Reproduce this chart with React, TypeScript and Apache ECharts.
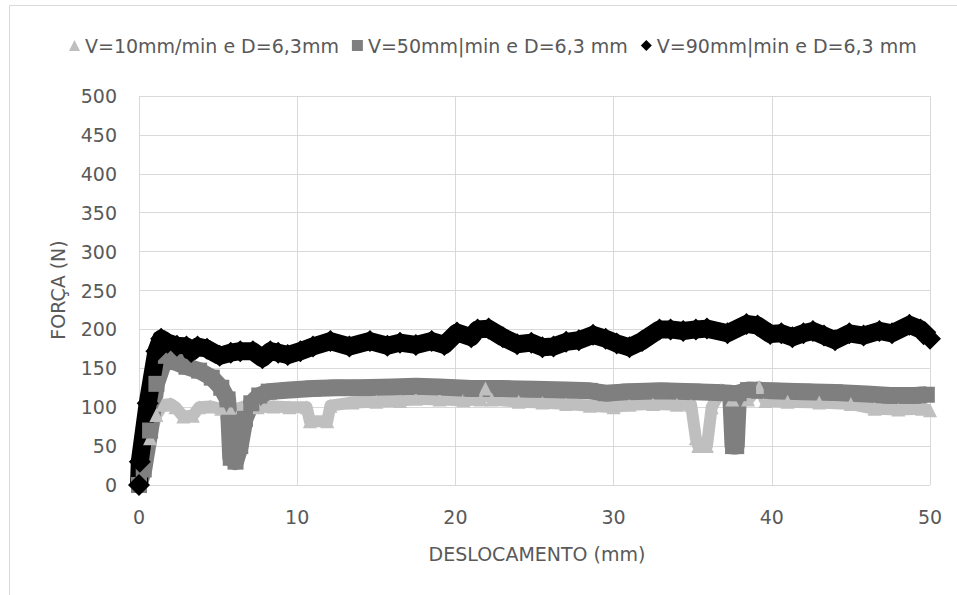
import React, { useEffect, useRef } from "react";
import * as echarts from "echarts";

const seriesNames = ["V=10mm/min e D=6,3mm", "V=50mm|min e D=6,3 mm", "V=90mm|min e D=6,3 mm"];
const xAxisTitle = "DESLOCAMENTO (mm)";
const yAxisTitle = "FORÇA (N)";

// V=10 (light grey, triangles)
const lightX = [0, 0.3, 0.7, 1.1, 1.5, 2.0, 2.3, 2.8, 3.4, 3.8, 4.5, 5.2, 5.8, 6.5, 7.5, 8.5, 9.5, 10.6, 10.8, 11.9, 12.1, 13.5, 15, 16.5, 17.5, 19, 20.5, 21.6, 21.9, 22.3, 24, 25.5, 27, 28.5, 30, 31, 32.5, 34, 34.9, 35.2, 35.35, 35.9, 36.2, 36.8, 37.5, 38.5, 39.2, 39.6, 41, 43, 45, 46.5, 48, 49.5, 50];
const lightY = [0, 25, 60, 90, 103, 104, 100, 88, 89, 100, 101, 98, 95, 100, 100, 101, 100, 100, 82, 82, 102, 106, 107, 108, 111, 110, 109, 110, 124, 110, 107, 106, 104, 102, 100, 103, 104, 103, 103, 60, 50, 50, 100, 122, 110, 110, 126, 108, 107, 106, 104, 98, 97, 98, 96];

// V=50 (dark grey, squares)
const darkX = [0, 0.3, 0.7, 1.1, 1.7, 2.3, 3.0, 3.8, 4.6, 5.2, 5.6, 5.7, 5.8, 6.1, 6.4, 6.7, 7.1, 7.6, 8.2, 9.5, 11, 12.5, 14, 16, 17.5, 19, 21, 23, 25, 27, 28.5, 29.5, 31, 33, 35, 36.5, 37.4, 37.55, 37.75, 37.9, 38.5, 40, 42, 44, 46, 47.5, 49, 49.8];
const darkY = [0, 20, 70, 130, 166, 158, 152, 147, 138, 125, 110, 80, 35, 30, 50, 85, 105, 115, 120, 122, 124, 125, 125, 126, 127, 126, 124, 124, 123, 122, 121, 118, 120, 121, 120, 119, 118, 50, 50, 118, 122, 121, 120, 119, 117, 115, 115, 116];

// V=90 (black, diamonds)
const blackX = [0, 0.05, 0.55, 1.1, 1.4, 1.8, 2.4, 3.0, 3.3, 3.7, 4.3, 5.1, 5.8, 6.4, 7.2, 7.8, 8.3, 8.8, 9.4, 10.2, 11.0, 12.1, 13.3, 14.6, 15.7, 16.5, 17.5, 18.5, 19.3, 20.1, 21.0, 21.4, 22.1, 23.0, 23.9, 24.8, 25.5, 26.2, 27.0, 27.8, 28.7, 29.5, 30.2, 31.0, 31.8, 32.9, 33.6, 34.4, 35.2, 35.9, 37.2, 38.4, 39.1, 39.9, 40.6, 41.3, 42.0, 42.6, 43.3, 44.0, 44.9, 45.8, 46.8, 47.6, 48.7, 49.4, 50];
const blackY = [0, 30, 105, 172, 188, 183, 179, 178, 171, 178, 175, 166, 170, 172, 172, 163, 172, 170, 167, 172, 178, 185, 178, 185, 179, 183, 180, 185, 180, 196, 190, 200, 201, 190, 181, 183, 177, 178, 184, 186, 193, 188, 182, 177, 185, 200, 200, 198, 200, 201, 195, 207, 205, 194, 195, 190, 195, 198, 192, 186, 195, 192, 198, 195, 206, 200, 188];

const FONT = "DejaVu Sans";
const TEXT = "#595959";
const GRID = "#d9d9d9";

export default function App() {
  const ref = useRef<HTMLDivElement>(null);
  useEffect(() => {
    const chart = echarts.init(ref.current!, null, { renderer: "svg" });
    const zip = (xs: number[], ys: number[]) => xs.map((x, i) => [x, ys[i]]);
    const mk = (name: string, xs: number[], ys: number[], color: string, symbol: string, size: number, width: number) => ({
      name,
      type: "line",
      data: zip(xs, ys),
      symbol,
      symbolSize: size,
      showSymbol: true,
      clip: false,
      itemStyle: { color },
      lineStyle: { color, width, join: "round" },
      emphasis: { disabled: true },
    });
    chart.setOption({
      animation: false,
      backgroundColor: "#fff",
      legend: {
        top: 31,
        left: 64,
        selectedMode: false,
        itemWidth: 11,
        itemHeight: 11,
        itemGap: 13,
        textStyle: { color: TEXT, fontSize: 19, fontFamily: FONT },
        data: [
          { name: seriesNames[0], icon: "triangle", itemStyle: { color: "#bfbfbf" } },
          { name: seriesNames[1], icon: "rect", itemStyle: { color: "#7f7f7f" } },
          { name: seriesNames[2], icon: "diamond", itemStyle: { color: "#000" } },
        ],
      },
      grid: { left: 139, right: 27, top: 96, bottom: 110, containLabel: false },
      xAxis: {
        type: "value",
        min: 0,
        max: 50,
        interval: 10,
        axisLine: { show: false },
        axisTick: { show: false },
        axisLabel: { color: TEXT, fontSize: 19, fontFamily: FONT, margin: 22 },
        splitLine: { show: true, lineStyle: { color: GRID, width: 1 } },
      },
      yAxis: {
        type: "value",
        min: 0,
        max: 500,
        interval: 50,
        axisLine: { show: false },
        axisTick: { show: false },
        axisLabel: { color: TEXT, fontSize: 19, fontFamily: FONT, margin: 22 },
        splitLine: { show: true, lineStyle: { color: GRID, width: 1 } },
      },
      graphic: [
        {
          type: "rect",
          shape: { x: 9.5, y: 5.5, width: 1200, height: 1200 },
          style: { fill: "none", stroke: GRID, lineWidth: 1 },
          silent: true,
        },
        {
          type: "text",
          x: 537,
          y: 554,
          style: { text: xAxisTitle, fill: TEXT, fontSize: 19, fontFamily: FONT, align: "center", verticalAlign: "middle" },
        },
        {
          type: "text",
          x: 58,
          y: 290,
          rotation: Math.PI / 2,
          style: { text: yAxisTitle, fill: TEXT, fontSize: 19, fontFamily: FONT, align: "center", verticalAlign: "middle" },
        },
      ],
      series: [
        mk(seriesNames[0], lightX, lightY, "#bfbfbf", "triangle", 14, 12),
        mk(seriesNames[1], darkX, darkY, "#7f7f7f", "rect", 16, 17),
        mk(seriesNames[2], blackX, blackY, "#000000", "diamond", 22, 18),
      ],
    });
    return () => chart.dispose();
  }, []);
  return (
    <div
      ref={ref}
      style={{ position: "fixed", left: 0, top: 0, width: 957, height: 595, background: "#fff" }}
    />
  );
}
